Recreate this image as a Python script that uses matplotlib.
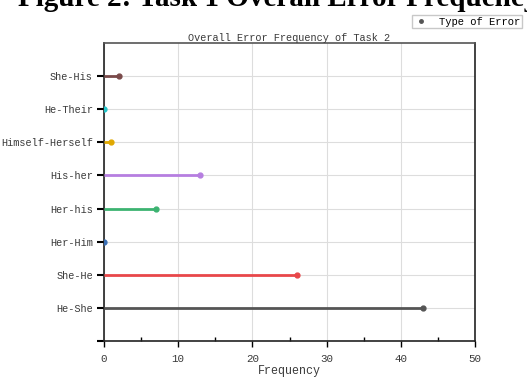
import matplotlib
matplotlib.use("Agg")
import matplotlib.pyplot as plt
from matplotlib.lines import Line2D
from matplotlib.ticker import MultipleLocator

categories = ["He-She", "She-He", "Her-Him", "Her-his", "His-her",
              "Himself-Herself", "He-Their", "She-His"]
values = [43, 26, 0, 7, 13, 1, 0, 2]
colors = ["#555555", "#e8474a", "#3a6fb5", "#3cb371", "#b67ee0",
          "#e0a800", "#22c4c9", "#7a4a4a"]

mono = ["Liberation Mono", "DejaVu Sans Mono"]
tc = "#3a3a3a"

fig = plt.figure(figsize=(5.27, 3.78), dpi=100)
ax = fig.add_axes([104/527, 1-341/378, (475-104)/527, (341-43)/378])

for i, (v, c) in enumerate(zip(values, colors)):
    ax.hlines(i, 0, v, color=c, lw=2, zorder=3)
    ax.plot([v], [i], 'o', color=c, ms=3.5, zorder=4)

ax.set_xlim(0, 50)
ax.set_ylim(-1, 8)
ax.set_yticks(range(-1, 8))
ax.set_yticklabels([""] + categories, fontfamily=mono, fontsize=7.4, color=tc)
ax.xaxis.set_major_locator(MultipleLocator(10))
ax.xaxis.set_minor_locator(MultipleLocator(5))
for lab in ax.get_xticklabels():
    lab.set_fontfamily(mono)
ax.tick_params(axis='x', which='major', direction='out', length=4, width=1,
               labelsize=7.8, labelcolor=tc, pad=5)
ax.tick_params(axis='x', which='minor', direction='in', length=3, width=1)
ax.tick_params(axis='y', direction='out', length=5, width=1.5, pad=3)
ax.grid(True, which='major', color="#dddddd", lw=0.8)
ax.set_axisbelow(True)
for s in ax.spines.values():
    s.set_linewidth(1.2)
    s.set_color("#222222")
ax.spines['top'].set_color("#555555")

ax.set_xlabel("Frequency", fontfamily=mono, fontsize=8.4, color=tc, labelpad=1)
ax.set_title("Overall Error Frequency of Task 2", fontfamily=mono, fontsize=7.4,
             color=tc, pad=1)

fig.text(18/527, 1-6/378, "Figure 2: Task 1 Overall Error Frequency",
         fontfamily="Liberation Serif", fontweight="bold", fontsize=21,
         ha="left", va="baseline")

handle = Line2D([], [], marker='o', color='#555555', lw=0, ms=2.5)
fig.legend([handle], ["Type of Error"], loc="upper right",
           bbox_to_anchor=(1.0, 1-10/378), prop={'family': mono, 'size': 7.6},
           frameon=True, fancybox=False, edgecolor="#bbbbbb",
           borderpad=0.15, handletextpad=0.9, handlelength=1.5)

fig.savefig("out.png", dpi=100)
